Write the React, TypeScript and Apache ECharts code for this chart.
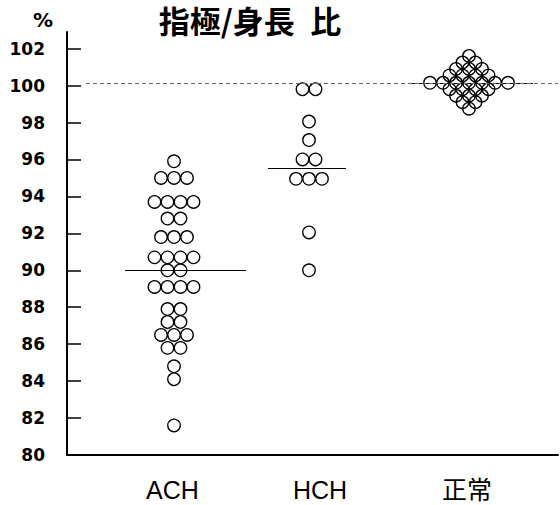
import React, { useEffect, useRef } from "react";
import * as echarts from "echarts";

// ---- data ----
const categories = ["ACH", "HCH", "正常"];
const achValues = [
  95.9,
  95.0, 95.0, 95.0,
  93.7, 93.7, 93.7, 93.7,
  92.8, 92.8,
  91.8, 91.8, 91.8,
  90.7, 90.7, 90.7, 90.7,
  90.0, 90.0,
  89.1, 89.1, 89.1, 89.1,
  87.9, 87.9,
  87.2, 87.2,
  86.5, 86.5, 86.5,
  85.8, 85.8,
  84.8,
  84.1,
  81.6,
];
const hchValues = [
  99.8, 99.8,
  98.05,
  97.05,
  96.0, 96.0,
  94.95, 94.95, 94.95,
  92.05,
  90.0,
];
const normalValues = [
  101.6,
  101.25, 101.25,
  100.9, 100.9, 100.9,
  100.55, 100.55, 100.55, 100.55,
  100.15, 100.15, 100.15, 100.15, 100.15, 100.15, 100.15,
  99.8, 99.8, 99.8, 99.8,
  99.45, 99.45, 99.45,
  99.1, 99.1,
  98.75,
];
const groupMeans = [90.0, 95.55, 100.15];
const referenceValue = 100.1;
const yTickValues = [80, 82, 84, 86, 88, 90, 92, 94, 96, 98, 100, 102];
const titleText = "指極/身長\u2002比";
const unitText = "%";

// ---- layout (x axis measured in pixels from the y axis) ----
const X_MAX = 491;
const CIRCLE_STEP = 13;
const groupCenters = [107, 242, 402];
const labelCenters = [105.5, 253, 400];
const meanSpans = [
  [58, 179],
  [201, 279],
  [345, 466],
];
const refSpan = [19, 491];

function swarm(values: number[], center: number): number[][] {
  const rows = new Map<string, number[]>();
  values.forEach((v) => {
    const k = v.toFixed(2);
    if (!rows.has(k)) rows.set(k, []);
    rows.get(k)!.push(v);
  });
  const out: number[][] = [];
  rows.forEach((vals) => {
    const n = vals.length;
    vals.forEach((v, i) => {
      out.push([center + (i - (n - 1) / 2) * CIRCLE_STEP, v]);
    });
  });
  return out;
}

export default function App() {
  const ref = useRef<HTMLDivElement>(null);
  useEffect(() => {
    if (!ref.current) return;
    const chart = echarts.init(ref.current, null, { renderer: "svg" });
    const groups = [achValues, hchValues, normalValues];
    const series: any[] = groups.map((vals, gi) => ({
      type: "scatter",
      data: swarm(vals, groupCenters[gi]),
      symbol: "circle",
      symbolSize: 12.5,
      itemStyle: {
        color: "rgba(255,255,255,0)",
        borderColor: "#000",
        borderWidth: 1.3,
        opacity: 1,
      },
      z: 3,
      silent: true,
      markLine: {
        silent: true,
        symbol: "none",
        label: { show: false },
        lineStyle: { color: "#000", width: 1, type: "solid" },
        data: [
          [
            { coord: [meanSpans[gi][0], groupMeans[gi]] },
            { coord: [meanSpans[gi][1], groupMeans[gi]] },
          ],
        ],
      },
    }));
    series.push({
      type: "line",
      data: [],
      silent: true,
      markLine: {
        silent: true,
        symbol: "none",
        label: { show: false },
        lineStyle: { color: "#666", width: 1, type: [4, 3] },
        data: [
          [
            { coord: [refSpan[0], referenceValue] },
            { coord: [refSpan[1], referenceValue] },
          ],
        ],
      },
      z: 1,
    });

    chart.setOption({
      animation: false,
      backgroundColor: "#fff",
      grid: { left: 67, right: 2, top: 32, bottom: 50, containLabel: false },
      xAxis: {
        type: "value",
        min: 0,
        max: X_MAX,
        splitLine: { show: false },
        axisTick: { show: false },
        axisLine: { show: true, onZero: false, lineStyle: { color: "#000", width: 2 } },
        axisLabel: {
          customValues: labelCenters,
          formatter: (v: number) => {
            const i = labelCenters.findIndex((c) => Math.abs(c - v) < 0.01);
            return i >= 0 ? categories[i] : "";
          },
          color: "#000",
          fontSize: 25,
          fontFamily: "'Liberation Sans', 'Noto Sans CJK JP', sans-serif",
          margin: 22,
        },
      },
      yAxis: {
        type: "value",
        min: 80,
        max: 102.9,
        splitLine: { show: false },
        axisLine: { show: true, onZero: false, lineStyle: { color: "#000", width: 2 } },
        axisTick: {
          show: true,
          inside: true,
          length: 14,
          customValues: yTickValues,
          lineStyle: { color: "#000", width: 1.5 },
        },
        axisLabel: {
          customValues: yTickValues,
          color: "#000",
          fontSize: 17,
          fontWeight: "bold",
          fontFamily: "'DejaVu Sans', sans-serif",
          margin: 22,
        },
      },
      graphic: [
        {
          type: "text",
          x: 250,
          y: 4,
          style: {
            text: titleText,
            fontSize: 31,
            lineHeight: 31,
            fontWeight: "bold",
            fontFamily: "'Noto Sans CJK JP', sans-serif",
            fill: "#000",
            align: "center",
            textAlign: "center",
            verticalAlign: "top",
            textVerticalAlign: "top",
          },
        },
        {
          type: "text",
          x: 43,
          y: 20,
          style: {
            text: unitText,
            fontSize: 20,
            fontWeight: "bold",
            fontFamily: "'DejaVu Sans', sans-serif",
            fill: "#000",
            align: "center",
            textAlign: "center",
            verticalAlign: "middle",
            textVerticalAlign: "middle",
          },
        },
      ],
      series,
    });
    return () => chart.dispose();
  }, []);
  return (
    <div
      ref={ref}
      style={{ position: "fixed", left: 0, top: 0, width: 560, height: 505 }}
    />
  );
}
